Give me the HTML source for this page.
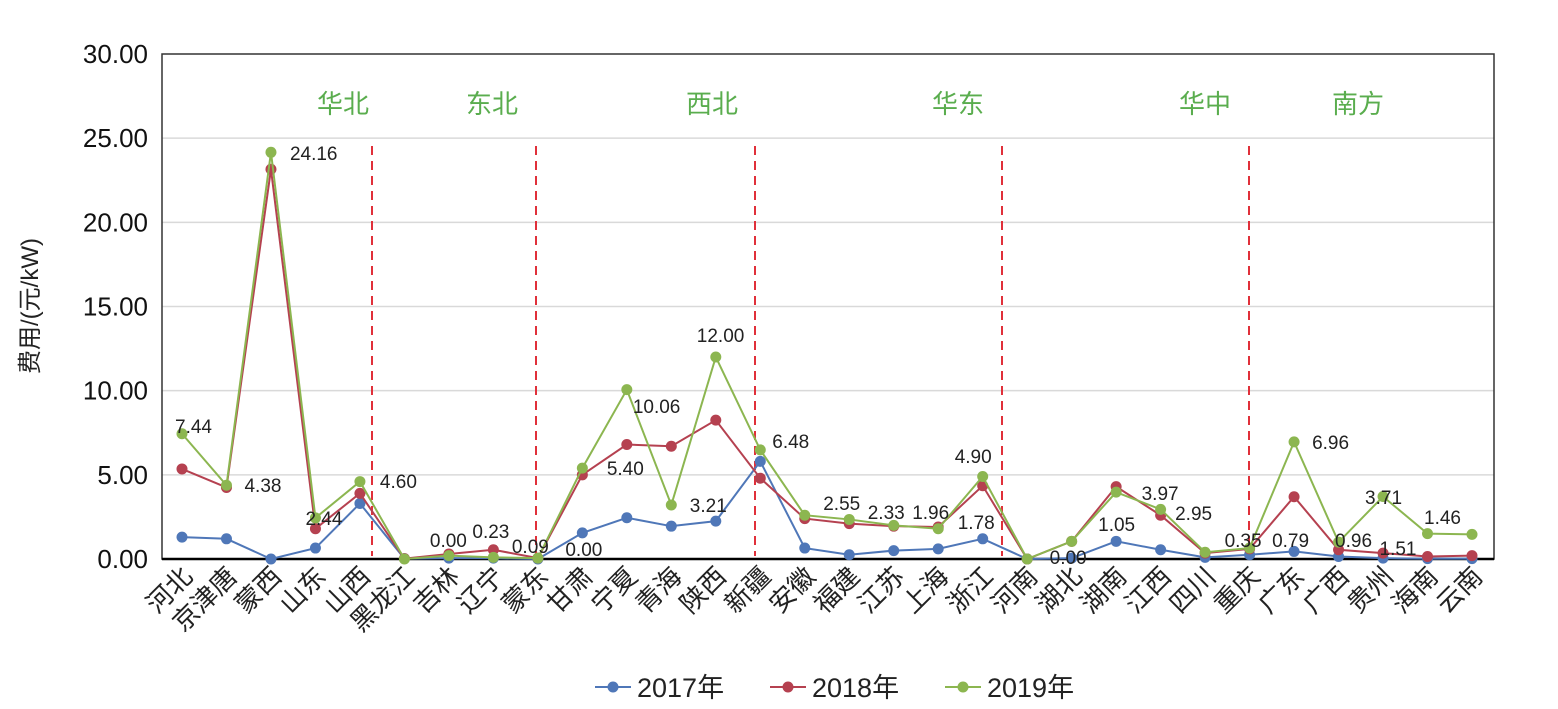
<!DOCTYPE html>
<html><head><meta charset="utf-8"><style>
body{margin:0;background:#fff;}
svg text{font-family:"Liberation Sans","Noto Sans CJK SC",sans-serif;}
</style></head><body>
<svg id="chart" width="1558" height="704" xmlns="http://www.w3.org/2000/svg"></svg>
<script>
const categories=["河北","京津唐","蒙西","山东","山西","黑龙江","吉林","辽宁","蒙东","甘肃","宁夏","青海","陕西","新疆","安徽","福建","江苏","上海","浙江","河南","湖北","湖南","江西","四川","重庆","广东","广西","贵州","海南","云南"];
const s2017=[1.3,1.2,0,0.65,3.3,0.02,0.05,0.05,0,1.55,2.45,1.95,2.25,5.8,0.65,0.25,0.5,0.6,1.2,0,0.05,1.05,0.55,0.1,0.25,0.45,0.15,0.05,0.02,0.02];
const s2018=[5.35,4.25,23.15,1.8,3.9,0.02,0.3,0.55,0.05,5.0,6.8,6.7,8.25,4.8,2.4,2.1,1.95,1.9,4.35,0,1.05,4.3,2.6,0.35,0.6,3.7,0.55,0.35,0.15,0.2];
const s2019=[7.44,4.38,24.16,2.44,4.6,0,0.2,0.1,0.05,5.4,10.06,3.21,12.0,6.48,2.6,2.35,2.0,1.8,4.9,0,1.05,3.97,2.95,0.4,0.65,6.96,1.0,3.71,1.51,1.46];
const yTicks=[0,5,10,15,20,25,30];
const yTickLabels=["0.00","5.00","10.00","15.00","20.00","25.00","30.00"];
const labelTexts=["7.44","4.38","24.16","2.44","4.60","0.00","0.23","0.09","0.00","5.40","10.06","3.21","12.00","6.48","2.55","2.33","1.96","4.90","1.78","0.00","1.05","3.97","2.95","0.35","0.79","6.96","0.96","3.71","1.51","1.46"];
const labelAnchors=[[0,-7,-126],[1,18,-67],[2,19,-399],[3,-10,-34],[4,20,-71],[6,-19,-12],[7,-21,-21],[8,-26,-6],[9,-17,-3],[10,-20,-84],[10,6,-146],[12,-26,-47],[12,-19,-217],[13,12,-111],[15,-26,-49],[16,-26,-40],[17,-26,-40],[18,-28,-96],[18,-25,-30],[20,-22,5],[21,-18,-28],[22,-19,-59],[23,-30,-39],[24,-25,-12],[25,-22,-12],[25,18,-110],[27,-48,-12],[27,-18,-55],[28,-48,-4],[29,-48,-35]];
const regions=["华北","东北","西北","华东","华中","南方"];
const regionX=[343,492,712,958,1205,1358];
const dividerX=[372,536,755,1002,1249];
const NS="http://www.w3.org/2000/svg";
const svg=document.getElementById('chart');
function mk(t,a,p){const e=document.createElementNS(NS,t);for(const k in a)e.setAttribute(k,a[k]);(p||svg).appendChild(e);return e;}
const L=162,R=1494,T=54,B=559;
const x=i=>182+i*(1472-182)/(categories.length-1);
const y=v=>B-(v/30)*(B-T);
yTicks.forEach((t,i)=>{
 if(t>0&&t<30){const g=mk('line',{x1:L,x2:R,y1:y(t),y2:y(t),stroke:'#d9d9d9','stroke-width':1.5});
 
 }
 const tl=mk('text',{x:148,y:y(t)+9,'text-anchor':'end','font-size':26,fill:'#111'});tl.textContent=yTickLabels[i];
 
 
});
const fr=mk('rect',{x:L,y:T,width:R-L,height:B-T,fill:'none',stroke:'#333','stroke-width':1.5});


const ax=mk('line',{x1:L,x2:R,y1:B,y2:B,stroke:'#000','stroke-width':2.5});


const yt=mk('text',{transform:'translate(38,306) rotate(-90)','text-anchor':'middle','font-size':24,fill:'#222'});yt.textContent='费用/(元/kW)';


dividerX.forEach(dx=>{const d=mk('line',{x1:dx,x2:dx,y1:146,y2:556,stroke:'#e0303a','stroke-width':2,'stroke-dasharray':'9,6'});
 
 });
regions.forEach((r,i)=>{const t=mk('text',{x:regionX[i],y:113,'text-anchor':'middle','font-size':26,fill:'#5aad4e'});t.textContent=r;
 
 });
categories.forEach((c,i)=>{const t=mk('text',{transform:`translate(${x(i)+12},578) rotate(-45)`,'text-anchor':'end','font-size':26,fill:'#222'});t.textContent=c;
 
 });
const series=[[s2017,'#4f77b8','2017'],[s2018,'#b54150','2018'],[s2019,'#8cb650','2019']];
series.forEach(([d,col,nm])=>{
 const g=mk('g',{});
 
 
 const p=mk('polyline',{points:d.map((v,i)=>x(i)+','+y(v)).join(' '),fill:'none',stroke:col,'stroke-width':2},g);
 
 
 d.forEach((v,i)=>{const c=mk('circle',{cx:x(i),cy:y(v),r:5.5,fill:col},g);
  
  });
});
labelAnchors.forEach((a,k)=>{const i=a[0];
 const t=mk('text',{x:x(i)+a[1],y:B+a[2],'font-size':19,fill:'#222'});
 t.textContent=labelTexts[k];
 
 });
[[595,'#4f77b8','2017年'],[770,'#b54150','2018年'],[945,'#8cb650','2019年']].forEach(([lx,col,txt])=>{
 const g=mk('g',{});
 
 
 mk('line',{x1:lx,x2:lx+36,y1:687,y2:687,stroke:col,'stroke-width':2},g);
 mk('circle',{cx:lx+18,cy:687,r:5.5,fill:col},g);
 const t=mk('text',{x:lx+42,y:697,'font-size':27,fill:'#222'},g);t.textContent=txt;
});
</script>
</body></html>
